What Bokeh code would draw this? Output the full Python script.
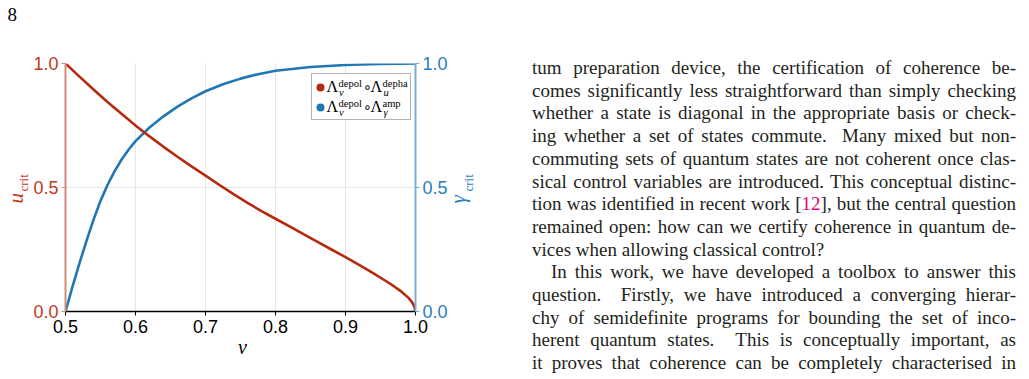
import numpy as np
from bokeh.plotting import figure
from bokeh.models import Range1d, LinearAxis, Div, FixedTicker, BoxAnnotation, PrintfTickFormatter
from bokeh.core.properties import value
from bokeh.layouts import row
from bokeh.embed import file_html
from bokeh.resources import INLINE

# Critical noise parameters as a function of the depolarising visibility v
v_depha = [0.5, 0.52, 0.54, 0.56, 0.58, 0.6, 0.62, 0.64, 0.66, 0.68, 0.7, 0.72, 0.74,
           0.76, 0.78, 0.8, 0.82, 0.84, 0.86, 0.88, 0.9, 0.92, 0.94, 0.96, 0.97, 0.98,
           0.99, 0.995, 0.998, 1.0]
u_crit = [1.0, 0.947, 0.895, 0.845, 0.797, 0.75, 0.706, 0.664, 0.624, 0.585, 0.548,
          0.51, 0.473, 0.438, 0.405, 0.374, 0.343, 0.312, 0.281, 0.25, 0.219, 0.187,
          0.154, 0.119, 0.1, 0.08, 0.055, 0.038, 0.022, 0.0]

v_amp = [0.5, 0.51, 0.52, 0.53, 0.54, 0.55, 0.56, 0.57, 0.58, 0.59, 0.6, 0.62, 0.64,
         0.66, 0.68, 0.7, 0.725, 0.75, 0.775, 0.8, 0.85, 0.9, 0.95, 1.0]
gamma_crit = [0.0, 0.1, 0.195, 0.285, 0.37, 0.446, 0.51, 0.565, 0.612, 0.652, 0.687,
              0.742, 0.787, 0.826, 0.859, 0.888, 0.916, 0.939, 0.957, 0.971, 0.986,
              0.994, 0.998, 1.0]

x_ticks = [0.5, 0.6, 0.7, 0.8, 0.9, 1.0]
y_ticks = [0.0, 0.5, 1.0]

# Running text of the page column next to the figure: (line, justified, indented)
text_lines = [
    ("tum preparation device, the certification of coherence be-", True, False),
    ("comes significantly less straightforward than simply checking", True, False),
    ("whether a state is diagonal in the appropriate basis or check-", True, False),
    ("ing whether a set of states commute.&nbsp; Many mixed but non-", True, False),
    ("commuting sets of quantum states are not coherent once clas-", True, False),
    ("sical control variables are introduced. This conceptual distinc-", True, False),
    ("tion was identified in recent work [<span style='color:#e4007f'>12</span>], but the central question", True, False),
    ("remained open: how can we certify coherence in quantum de-", True, False),
    ("vices when allowing classical control?", False, False),
    ("In this work, we have developed a toolbox to answer this", True, True),
    ("question.&nbsp; Firstly, we have introduced a converging hierar-", True, False),
    ("chy of semidefinite programs for bounding the set of inco-", True, False),
    ("herent quantum states.&nbsp; This is conceptually important, as", True, False),
    ("it proves that coherence can be completely characterised in", True, False),
]

RED = "#b52a0c"
RED_TXT = "#c23a1b"
RED_AX = "#d38a7b"
BLUE = "#2077b4"
BLUE_TXT = "#2a7dbf"
BLUE_AX = "#79acd8"
GRID = "#e6e6e6"

W, H = 532, 379
FL, FR, FT, FB = 65, 415, 63, 311

p = figure(width=W, height=H, x_range=Range1d(0.5, 1.0), y_range=Range1d(0.0, 1.0),
           output_backend="svg", toolbar_location=None,
           min_border_left=FL, min_border_right=W - FR,
           min_border_top=FT, min_border_bottom=H - FB,
           outline_line_color=None, background_fill_color="white",
           border_fill_color="white")
p.extra_y_ranges = {"gamma": Range1d(0.0, 1.0)}
p.add_layout(LinearAxis(y_range_name="gamma"), "right")

TICK_FONT = "Liberation Sans"
for ax in p.axis:
    ax.major_label_text_font = TICK_FONT
    ax.major_label_text_font_size = "18px"
    ax.major_tick_in = 0
    ax.major_tick_out = 4
    ax.minor_tick_line_color = None
    ax.formatter = PrintfTickFormatter(format="%.1f")

xa = p.xaxis[0]
xa.ticker = FixedTicker(ticks=x_ticks)
xa.axis_line_color = "black"
xa.axis_line_width = 1.5
xa.major_tick_line_color = "black"
xa.major_label_text_color = "black"
xa.major_label_standoff = 4

ya = p.yaxis[0]
ya.ticker = FixedTicker(ticks=y_ticks)
ya.axis_line_color = RED_AX
ya.axis_line_width = 2
ya.major_tick_line_color = RED_AX
ya.major_label_text_color = RED_TXT
ya.major_label_standoff = 3

yb = p.yaxis[1]
yb.ticker = FixedTicker(ticks=y_ticks)
yb.axis_line_color = BLUE_AX
yb.axis_line_width = 2
yb.major_tick_line_color = BLUE_AX
yb.major_label_text_color = BLUE_TXT
yb.major_label_standoff = 3

p.xgrid.ticker = FixedTicker(ticks=x_ticks)
p.ygrid.ticker = FixedTicker(ticks=y_ticks)
p.grid.grid_line_color = GRID
p.grid.grid_line_width = 1

p.line(v_amp, gamma_crit, line_color=BLUE, line_width=2.6, y_range_name="gamma")
p.line(v_depha, u_crit, line_color=RED, line_width=2.6)

# the text glyph sits a little below the requested alphabetic baseline
BASE_SHIFT = 0.36


def put(text, px, py, size, color="black", font="Liberation Serif", style="normal",
        align="left", angle=0.0):
    """Write a text piece with its baseline at canvas pixel (px, py)."""
    if angle:
        px -= BASE_SHIFT * size
    else:
        py -= BASE_SHIFT * size
    p.text(x=[0.5], y=[0.0], text=[text], x_offset=px - FL, y_offset=py - FB,
           text_font=value(font), text_font_size=value(f"{size}px"),
           text_font_style=style, text_color=color, text_align=align,
           text_baseline="alphabetic", angle=angle, level="overlay")


def box(left, top, right, bottom, fill, line=None, radius=0):
    p.add_layout(BoxAnnotation(left=left - FL, right=right - FL, top=FB - top,
                               bottom=FB - bottom, left_units="screen",
                               right_units="screen", top_units="screen",
                               bottom_units="screen", fill_color=fill, fill_alpha=1.0,
                               line_color=line, line_width=1, border_radius=radius,
                               level="annotation"))


# page number
put("8", 7, 21, 19)

# axis titles
put("v", 242, 354, 20, style="italic", align="center")
put("u", 23, 203, 21, color=RED_TXT, style="italic", angle=np.pi / 2)
put("crit", 28, 191, 13, color=RED_TXT, angle=np.pi / 2)
put("γ", 465, 203, 21, color=BLUE_TXT, style="italic", angle=np.pi / 2)
put("crit", 473, 191, 13, color=BLUE_TXT, angle=np.pi / 2)

# legend
box(311, 73, 410, 119, "white", line="black")
entries = [
    (RED, 92, "depha", "u"),
    (BLUE, 112, "amp", "γ"),
]
for color, base, sup2, sub2 in entries:
    box(316, base - 9, 324, base - 1, color, radius=4)
    put("Λ", 326, base, 16)
    put("depol", 338, base - 5.5, 10.5)
    put("v", 338.5, base + 3.5, 10.5, style="italic")
    put("∘", 362.5, base - 0.5, 14, font="DejaVu Sans")
    put("Λ", 370, base, 16)
    put(sup2, 382, base - 5.5, 10.5)
    put(sub2, 383, base + 3.5, 10.5, style="italic")

rows_html = []
for txt, just, indent in text_lines:
    style = "text-align:justify;text-align-last:justify;" if just else "text-align:left;"
    if indent:
        style += "text-indent:19px;"
    rows_html.append(f"<div style=\"{style}\">{txt}</div>")

html = ("<div style=\"font-family:'Liberation Serif';font-size:19px;line-height:22.7px;"
        "color:#231f20;width:484px;padding-top:57px;\">" + "".join(rows_html) + "</div>")
div = Div(text=html, width=1029 - W, height=H, styles={"margin": "0", "padding": "0"})

layout = row(p, div)
open("out.html", "w").write(file_html(layout, INLINE))
